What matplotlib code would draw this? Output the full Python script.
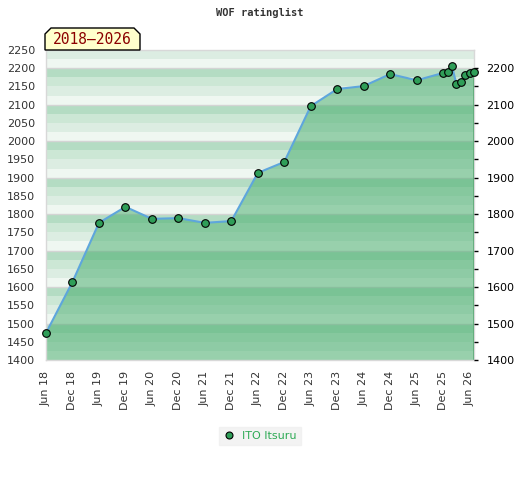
import matplotlib
matplotlib.use("Agg")
import matplotlib.pyplot as plt
from matplotlib.patches import Polygon
from matplotlib.lines import Line2D

# ---- data ----
months = [0, 6, 12, 18, 24, 30, 36, 42, 48, 54, 60, 66, 72, 78, 84,
          90, 91, 92, 93, 94, 95, 96, 97]
ratings = [1474, 1614, 1776, 1820, 1787, 1789, 1776, 1781, 1913, 1943,
           2096, 2143, 2151, 2184, 2167,
           2187, 2189, 2206, 2157, 2162, 2181, 2186, 2189]
tick_months = [0, 6, 12, 18, 24, 30, 36, 42, 48, 54, 60, 66, 72, 78, 84, 90, 96]
tick_labels = ["Jun 18", "Dec 18", "Jun 19", "Dec 19", "Jun 20", "Dec 20",
               "Jun 21", "Dec 21", "Jun 22", "Dec 22", "Jun 23", "Dec 23",
               "Jun 24", "Dec 24", "Jun 25", "Dec 25", "Jun 26"]
player = "ITO Itsuru"
period = "2018\u20132026"
title = "WOF ratinglist"

YMIN, YMAX = 1400, 2250
XMIN, XMAX = 0, 97

fig = plt.figure(figsize=(5.2, 4.8), dpi=100)
ax = fig.add_axes([46/520, 120/480, 428/520, 310/480])
ax.set_xlim(XMIN, XMAX)
ax.set_ylim(YMIN, YMAX)

band_colors = {0: "#eff7f1", 25: "#dcede2", 50: "#cce7d5", 75: "#b4dcc3"}
for lo in range(YMIN, YMAX, 25):
    ax.axhspan(lo, lo + 25, color=band_colors[lo % 100], lw=0, zorder=0)
for g in range(YMIN + 100, YMAX, 100):
    ax.axhline(g, color="#d4d4d4", lw=1, zorder=0.5)

ax.fill_between(months, ratings, YMIN, facecolor="#42ab69", alpha=0.5,
                edgecolor="none", zorder=1)
ax.plot([months[0], months[0]], [YMIN, ratings[0]], color="#3d9e5e", lw=1.2, zorder=1.5)
ax.plot([months[-1], months[-1]], [YMIN, ratings[-1]], color="#3d9e5e", lw=1.2, zorder=1.5)
ax.plot(months, ratings, color="#5ea6dc", lw=1.5, zorder=2, clip_on=False)
ax.plot(months, ratings, ls="none", marker="o", ms=5.5, mfc="#2f9e58",
        mec="black", mew=0.8, zorder=3, clip_on=False)

for s in ax.spines.values():
    s.set_color("#d8d8d8")
    s.set_linewidth(1)

ax.set_yticks(range(YMIN, YMAX + 1, 50))
ax.tick_params(axis="y", which="both", length=0, labelsize=8, colors="#333333", pad=8)
ax.set_xticks(tick_months)
ax.set_xticklabels(tick_labels, rotation=90)
ax.tick_params(axis="x", length=0, labelsize=8, colors="#333333", pad=8)

ax2 = ax.twinx()
ax2.set_ylim(YMIN, YMAX)
ax2.set_yticks(range(YMIN, YMAX + 1, 100))
ax2.set_yticks(range(YMIN + 50, YMAX, 100), minor=True)
ax2.tick_params(axis="y", which="both", length=3, width=1, color="black",
                labelsize=8, labelcolor="black", pad=6)
for s in ax2.spines.values():
    s.set_visible(False)

fig.text(0.5, 1 - 13/480, title, ha="center", va="center", fontsize=7.5,
         family="DejaVu Sans Mono", fontweight="bold", color="#333333")

# period label box (chamfered top corners)
x0, x1, yb, yt, c = 45, 140, 50, 28, 6
pts = [(x0, yb), (x0, yt + c), (x0 + c, yt), (x1 - c, yt), (x1, yt + c), (x1, yb)]
pts = [(px / 520, 1 - py / 480) for px, py in pts]
fig.patches.append(Polygon(pts, closed=True, transform=fig.transFigure,
                           facecolor="#ffffcc", edgecolor="black", lw=1, zorder=5))
fig.text((x0 + x1) / 2 / 520, 1 - 40/480, period, ha="center", va="center",
         fontsize=10.5, family="DejaVu Sans Mono", color="#8b0000", zorder=6)

handle = Line2D([], [], ls="none", marker="o", ms=5, mfc="#2f9e58", mec="black", mew=0.8)
leg = fig.legend([handle], [player], loc="center", bbox_to_anchor=(260/520, 1 - 436/480),
                 frameon=True, fontsize=8, handletextpad=0.6, borderpad=0.4,
                 handlelength=1.0, fancybox=False)
leg.get_frame().set_facecolor("#f0f0f0")
leg.get_frame().set_edgecolor("#f0f0f0")
for t in leg.get_texts():
    t.set_color("#2eaa55")

fig.savefig("out.png", dpi=100)
